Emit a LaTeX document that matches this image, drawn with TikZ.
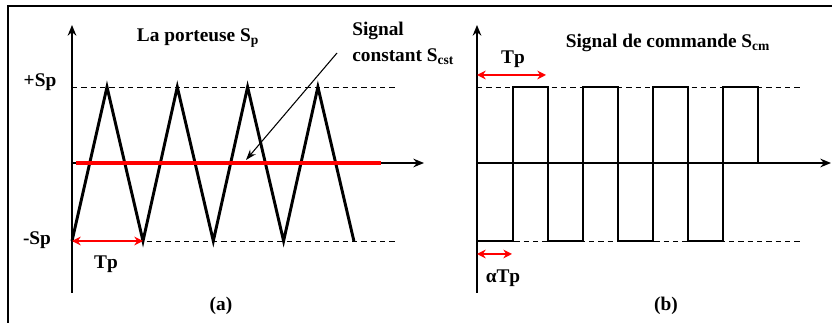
\documentclass[tikz,border=0pt]{standalone}
\usepackage{fontspec}
\setmainfont{Liberation Serif}
\usetikzlibrary{arrows.meta}

\begin{document}
\begin{tikzpicture}[
    x=0.75pt, y=-0.75pt,
    frame/.style={line width=1.5pt},
    axis/.style={line width=1.3pt, -{Stealth[length=8pt, width=6.5pt]}},
    level/.style={line width=0.6pt, dash pattern=on 4pt off 3pt},
    wave/.style={line width=2.2pt, line join=miter},
    period/.style={red, line width=1.4pt, {Stealth[length=6.5pt, width=6.5pt]}-{Stealth[length=6.5pt, width=6.5pt]}},
    cst/.style={red, line width=3.5pt},
    label/.style={font=\bfseries\fontsize{14.5}{16}\selectfont, inner sep=0pt}
]
\useasboundingbox (0,0) rectangle (832,323);

% Frame
\draw[frame] (8,323) -- (8,6) -- (832,6);

% Panel (a): axes
\coordinate (oa) at (72,163);
\coordinate (ya) at (72,25);
\coordinate (yabot) at (72,293);
\coordinate (xa) at (424,163);
\draw[axis] (yabot) -- (ya);
\draw[axis] (oa) -- (xa);

% Levels +Sp / -Sp
\draw[level] (72,87) -- (398,87);
\draw[level] (72,241) -- (398,241);

% Carrier (triangle)
\draw[wave] (72,241)
    \foreach \k in {0,...,3} { -- ({107+70.3*\k},87) -- ({143+70.3*\k},241) };

% Constant signal
\coordinate (cstto) at (246,160);
\coordinate (cstfrom) at (337,53);
\draw[cst] (76,163) -- (381,163);
\draw[line width=0.8pt, -{Stealth[length=8pt, width=5.5pt]}] (cstfrom) -- (cstto);

% Period of the carrier
\coordinate (tpa1) at (72,241);
\coordinate (tpa2) at (143,241);
\draw[period] (tpa1) -- (tpa2);

% Labels (a)
\node[label] (porteuse) at (198,38) {La porteuse S\textsubscript{p}};
\node[label, anchor=west] (sig) at (352,31) {Signal};
\node[label, anchor=west] (cstlbl) at (352,57) {constant S\textsubscript{cst}};
\node[label] (plus) at (40,82) {+Sp};
\node[label] (minus) at (37,240) {-Sp};
\node[label] (tpa) at (106,264) {Tp};
\node[label] (capa) at (221,306) {(a)};

% Panel (b): axes
\coordinate (ob) at (477,163);
\coordinate (yb) at (477,25);
\coordinate (ybbot) at (477,293);
\coordinate (xb) at (831,163);
\draw[axis] (ybbot) -- (yb);
\draw[axis] (ob) -- (xb);

% Levels
\draw[level] (477,87) -- (803,87);
\draw[level] (477,241) -- (803,241);

% Command signal (square)
\draw[wave] (477,241)
    \foreach \k in {0,...,2} { -- ({513+70*\k},241) -- ({513+70*\k},87) -- ({548+70*\k},87) -- ({548+70*\k},241) }
    -- (723,241) -- (723,87) -- (758,87) -- (758,163);

% Periods
\coordinate (tpb1) at (477,75);
\coordinate (tpb2) at (546,75);
\draw[period] (tpb1) -- (tpb2);
\coordinate (atp1) at (477,254);
\coordinate (atp2) at (512,254);
\draw[period] (atp1) -- (atp2);

% Labels (b)
\node[label] (commande) at (668,43) {Signal de commande S\textsubscript{cm}};
\node[label] (tpb) at (513,59) {Tp};
\node[label] (atp) at (503,278) {αTp};
\node[label] (capb) at (666,306) {(b)};

\end{tikzpicture}
\end{document}
